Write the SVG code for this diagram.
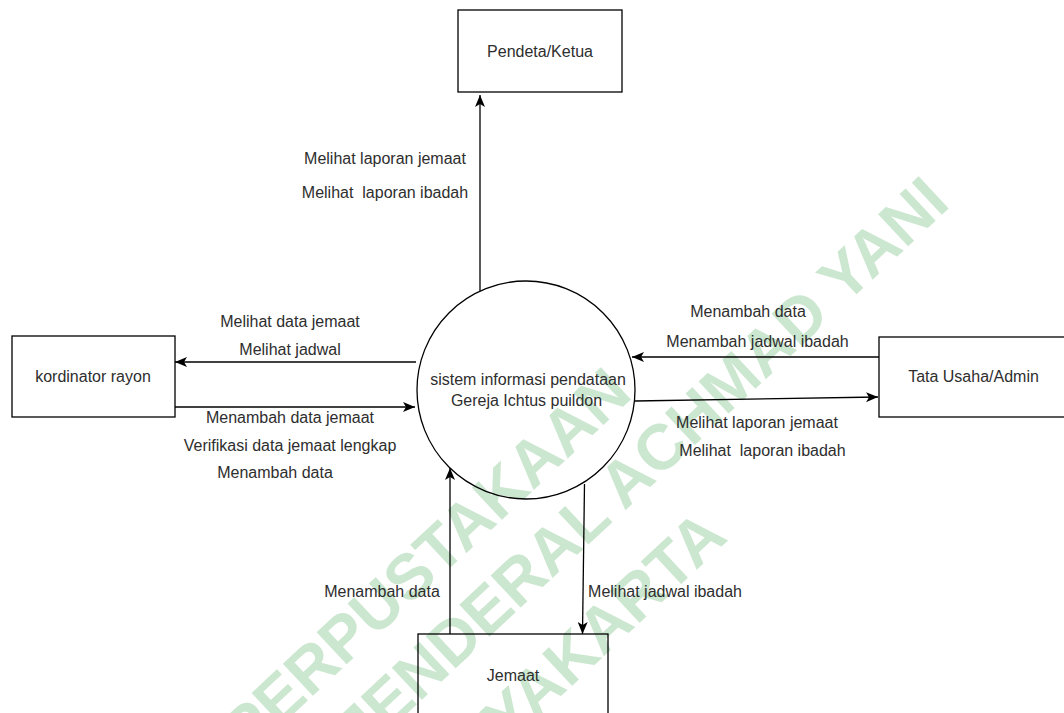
<svg xmlns="http://www.w3.org/2000/svg" width="1064" height="713" viewBox="0 0 1064 713">
<style>
.wm{font-family:"Liberation Sans",Arial,sans-serif;font-weight:bold;font-size:64px;fill:#cce7d0;text-anchor:middle}
.shape{fill:none;stroke:#000;stroke-width:1.3}
.lbl{font-family:"Liberation Sans",Arial,Helvetica,sans-serif;font-size:16px;fill:#2e2e2e;text-anchor:middle}
.pre{white-space:pre}
.edge{stroke:#000;stroke-width:1.3;fill:none;marker-end:url(#arr)}
</style>
<defs>
<marker id="arr" viewBox="0 0 12 10" refX="12" refY="5" markerWidth="12" markerHeight="10" orient="auto" markerUnits="userSpaceOnUse">
<path d="M0,0 L12,5 L0,10 L3,5 Z" fill="#000"/>
</marker>
</defs>
<rect x="0" y="0" width="1064" height="713" fill="#fff"/>
<g id="watermark" class="wm">
<text transform="translate(425,560) rotate(-43)" y="23">PERPUSTAKAAN</text>
<text transform="translate(641,464) rotate(-43)" y="23">JENDERAL ACHMAD YANI</text>
<text transform="translate(551,674) rotate(-43)" y="23">YOGYAKARTA</text>
</g>
<g id="connectors">
<path class="edge" d="M480,291 L480,95"/>
<path class="edge" d="M416,362 L175,362"/>
<path class="edge" d="M175,407 L415,407"/>
<path class="edge" d="M879,357 L632,357"/>
<path class="edge" d="M635,401 L878,397"/>
<path class="edge" d="M450,634 L450,468"/>
<path class="edge" d="M584.5,484 L582.5,634"/>
</g>
<g id="edge-labels" class="lbl">
<text x="385" y="164">Melihat laporan jemaat</text>
<text class="pre" xml:space="preserve" x="385" y="198">Melihat  laporan ibadah</text>
<text x="290" y="327">Melihat data jemaat</text>
<text x="290" y="355">Melihat jadwal</text>
<text x="290" y="423">Menambah data jemaat</text>
<text x="290" y="451">Verifikasi data jemaat lengkap</text>
<text x="275" y="478">Menambah data</text>
<text x="748" y="317">Menambah data</text>
<text x="757.5" y="347">Menambah jadwal ibadah</text>
<text x="757" y="428">Melihat laporan jemaat</text>
<text class="pre" xml:space="preserve" x="762.5" y="456">Melihat  laporan ibadah</text>
<text x="382" y="597">Menambah data</text>
<text x="665" y="597">Melihat jadwal ibadah</text>
</g>
<g id="node-pendeta">
<rect class="shape" x="458" y="10" width="164" height="82"/>
<text class="lbl" x="540" y="57">Pendeta/Ketua</text>
</g>
<g id="node-kordinator">
<rect class="shape" x="12" y="336" width="163" height="81"/>
<text class="lbl" x="93" y="382">kordinator rayon</text>
</g>
<g id="node-admin">
<rect class="shape" x="879" y="337" width="200" height="80"/>
<text class="lbl" x="973.5" y="382">Tata Usaha/Admin</text>
</g>
<g id="node-jemaat">
<rect class="shape" x="418" y="634" width="190" height="100"/>
<text class="lbl" x="513" y="681">Jemaat</text>
</g>
<g id="node-sistem">
<circle class="shape" cx="526" cy="390" r="109"/>
<text class="lbl" x="528" y="385">sistem informasi pendataan</text>
<text class="lbl" x="526.5" y="406">Gereja Ichtus puildon</text>
</g>
</svg>
